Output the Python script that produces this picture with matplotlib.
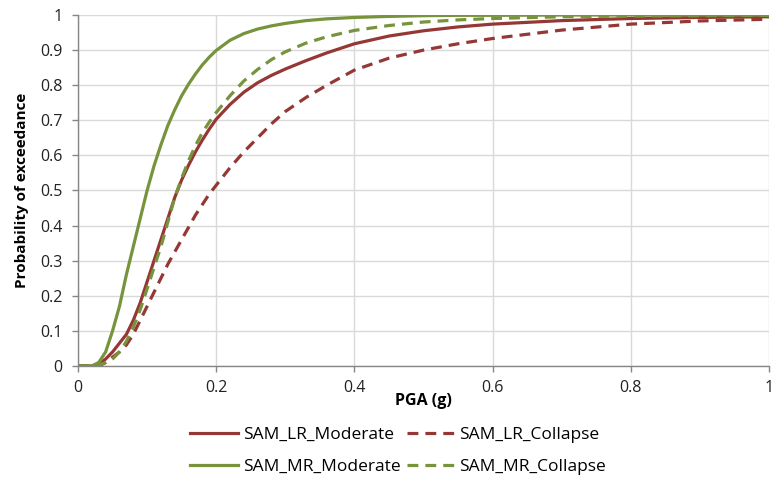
import matplotlib
matplotlib.use('Agg')
import matplotlib.pyplot as plt

# PGA values (g) and probability of exceedance for each fragility curve
pga = [0, 0.01, 0.02, 0.03, 0.04, 0.05, 0.06, 0.07, 0.08, 0.09, 0.10,
       0.11, 0.12, 0.13, 0.14, 0.15, 0.16, 0.17, 0.18, 0.19, 0.20,
       0.22, 0.24, 0.26, 0.28, 0.30, 0.33, 0.36, 0.40, 0.45, 0.50,
       0.55, 0.60, 0.70, 0.80, 0.90, 1.00]

lr_moderate = [0, 0, 0, 0.005, 0.02, 0.04, 0.065, 0.09, 0.13, 0.18, 0.24,
               0.30, 0.36, 0.42, 0.48, 0.53, 0.572, 0.61, 0.644, 0.675, 0.703,
               0.745, 0.78, 0.807, 0.828, 0.846, 0.87, 0.892, 0.918, 0.94, 0.955,
               0.966, 0.974, 0.984, 0.99, 0.993, 0.995]

lr_collapse = [0, 0, 0, 0, 0.01, 0.025, 0.04, 0.06, 0.09, 0.13, 0.17,
               0.21, 0.25, 0.29, 0.325, 0.36, 0.395, 0.43, 0.46, 0.49, 0.515,
               0.565, 0.61, 0.65, 0.69, 0.725, 0.765, 0.80, 0.843, 0.877, 0.90,
               0.918, 0.933, 0.957, 0.974, 0.983, 0.988]

mr_moderate = [0, 0, 0, 0.01, 0.04, 0.10, 0.17, 0.26, 0.34, 0.42, 0.50,
               0.57, 0.63, 0.685, 0.73, 0.77, 0.803, 0.832, 0.858, 0.88, 0.899,
               0.928, 0.947, 0.96, 0.969, 0.976, 0.984, 0.989, 0.993, 0.996, 0.998,
               0.999, 0.999, 1.0, 1.0, 1.0, 1.0]

mr_collapse = [0, 0, 0, 0.002, 0.01, 0.02, 0.04, 0.07, 0.11, 0.16, 0.22,
               0.28, 0.34, 0.41, 0.48, 0.535, 0.585, 0.628, 0.665, 0.695, 0.722,
               0.77, 0.812, 0.845, 0.873, 0.895, 0.92, 0.938, 0.956, 0.97, 0.98,
               0.986, 0.99, 0.995, 0.997, 0.998, 0.999]

red = '#953735'
green = '#77933C'

plt.rcParams['font.family'] = ['Open Sans', 'DejaVu Sans']

fig = plt.figure(figsize=(7.73, 4.79), dpi=100)
ax = fig.add_axes([0.1009, 0.2359, 0.8939, 0.7328])

lw = 2.3
dash = (0, (3.4, 2.2))
l1, = ax.plot(pga, lr_moderate, color=red, lw=lw, label='SAM_LR_Moderate')
l2, = ax.plot(pga, lr_collapse, color=red, lw=lw, linestyle=dash, label='SAM_LR_Collapse')
l3, = ax.plot(pga, mr_moderate, color=green, lw=lw, label='SAM_MR_Moderate')
l4, = ax.plot(pga, mr_collapse, color=green, lw=lw, linestyle=dash, label='SAM_MR_Collapse')

ax.set_xlim(0, 1)
ax.set_ylim(0, 1)
xt = [0, 0.2, 0.4, 0.6, 0.8, 1.0]
yt = [i / 10 for i in range(11)]
ax.set_xticks(xt)
ax.set_xticklabels(['0', '0.2', '0.4', '0.6', '0.8', '1'])
ax.set_yticks(yt)
ax.set_yticklabels(['0'] + ['%.1f' % v for v in yt[1:-1]] + ['1'])
ax.tick_params(labelsize=11.5, colors='#868686', labelcolor='#222222', length=4, width=1)
ax.tick_params(axis='y', pad=7)
ax.tick_params(axis='x', pad=6)

ax.grid(True, color='#D9D9D9', linewidth=1)
ax.set_axisbelow(True)
for s in ['top', 'right']:
    ax.spines[s].set_visible(False)
for s in ['left', 'bottom']:
    ax.spines[s].set_color('#868686')
    ax.spines[s].set_linewidth(1)

ax.set_xlabel('PGA (g)', fontsize=11.5, fontweight='bold', labelpad=-2)
ax.set_ylabel('Probability of exceedance', fontsize=11, fontweight='bold', labelpad=8)

fig.legend([l1, l3, l2, l4],
           ['SAM_LR_Moderate', 'SAM_MR_Moderate', 'SAM_LR_Collapse', 'SAM_MR_Collapse'],
           ncol=2, loc='upper center', bbox_to_anchor=(0.515, 0.127),
           frameon=False, fontsize=12.5, handlelength=2.75, handletextpad=0.3,
           columnspacing=0.35, labelspacing=0.9, borderpad=0)

fig.savefig('out.png', dpi=100)
